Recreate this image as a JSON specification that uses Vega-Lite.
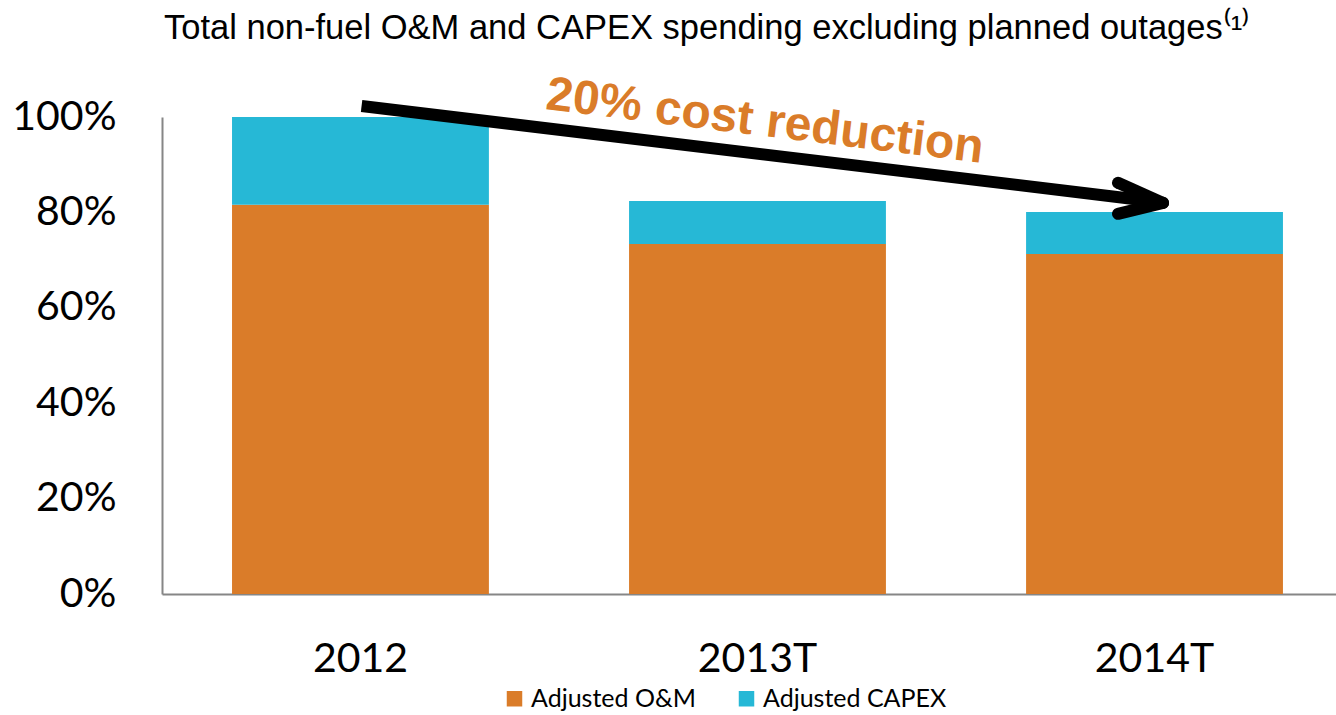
{
  "$schema": "https://vega.github.io/schema/vega-lite/v6.json",
  "width": 1174,
  "height": 477,
  "autosize": {"type": "none"},
  "padding": {"left": 162, "top": 117, "right": 0, "bottom": 121},
  "background": "white",
  "title": {
    "text": "Total non-fuel O&M and CAPEX spending excluding planned outages⁽¹⁾",
    "anchor": "start",
    "frame": "group",
    "font": "Liberation Sans",
    "fontSize": 34.5,
    "fontWeight": "normal",
    "color": "#000000",
    "offset": 25,
    "dx": 2
  },
  "config": {
    "view": {"stroke": null},
    "axis": {
      "grid": false,
      "ticks": false,
      "domainColor": "#868686",
      "domainWidth": 2,
      "labelColor": "#000000",
      "labelFont": "Lato",
      "labelFontSize": 41
    }
  },
  "layer": [
    {
      "data": {
        "values": [
          {"year": "2012", "series": "Adjusted O&M", "value": 0.816},
          {"year": "2012", "series": "Adjusted CAPEX", "value": 0.184},
          {"year": "2013T", "series": "Adjusted O&M", "value": 0.734},
          {"year": "2013T", "series": "Adjusted CAPEX", "value": 0.090},
          {"year": "2014T", "series": "Adjusted O&M", "value": 0.713},
          {"year": "2014T", "series": "Adjusted CAPEX", "value": 0.088}
        ]
      },
      "mark": {"type": "bar"},
      "encoding": {
        "x": {
          "field": "year",
          "type": "nominal",
          "sort": ["2012", "2013T", "2014T"],
          "scale": {"paddingInner": 0.353, "paddingOuter": 0.155, "align": 0.569},
          "axis": {"title": null, "labelAngle": 0, "labelPadding": 45}
        },
        "y": {
          "field": "value",
          "type": "quantitative",
          "stack": "zero",
          "scale": {"domain": [0, 1], "nice": false},
          "axis": {"title": null, "format": ".0%", "values": [0, 0.2, 0.4, 0.6, 0.8, 1], "labelPadding": 46}
        },
        "color": {
          "field": "series",
          "type": "nominal",
          "scale": {"domain": ["Adjusted O&M", "Adjusted CAPEX"], "range": ["#DA7C29", "#26B8D6"]},
          "legend": {
            "orient": "none",
            "legendX": 340,
            "legendY": 569,
            "direction": "horizontal",
            "title": null,
            "symbolType": "square",
            "symbolSize": 240,
            "symbolStrokeWidth": 0,
            "labelFont": "Lato",
            "labelFontSize": 25,
            "labelLimit": 400,
            "labelColor": "#000000",
            "labelOffset": 4,
            "columnPadding": 38
          }
        },
        "order": {"field": "series", "sort": "descending"}
      }
    },
    {
      "data": {"values": [{"ax": 0.170, "ay": 1.023, "ax2": 0.8416, "ay2": 0.824}]},
      "mark": {"type": "rule", "strokeWidth": 12, "color": "#000000", "strokeCap": "butt"},
      "encoding": {
        "x": {"field": "ax", "type": "quantitative", "scale": {"domain": [0, 1], "nice": false}, "axis": null},
        "y": {"field": "ay", "type": "quantitative", "scale": {"domain": [0, 1], "nice": false}, "axis": null},
        "x2": {"field": "ax2"},
        "y2": {"field": "ay2"}
      }
    },
    {
      "data": {
        "values": [
          {"ax": 0.8143, "ay": 0.862, "ax2": 0.8527, "ay2": 0.820},
          {"ax": 0.8143, "ay": 0.797, "ax2": 0.8527, "ay2": 0.820}
        ]
      },
      "mark": {"type": "rule", "strokeWidth": 12, "color": "#000000", "strokeCap": "round"},
      "encoding": {
        "x": {"field": "ax", "type": "quantitative", "scale": {"domain": [0, 1], "nice": false}, "axis": null},
        "y": {"field": "ay", "type": "quantitative", "scale": {"domain": [0, 1], "nice": false}, "axis": null},
        "x2": {"field": "ax2"},
        "y2": {"field": "ay2"}
      }
    },
    {
      "data": {"values": [{"ax": 0.5136, "ay": 0.9895, "label": "20% cost reduction"}]},
      "mark": {
        "type": "text",
        "angle": 7,
        "font": "Liberation Sans",
        "fontWeight": "bold",
        "fontSize": 48,
        "color": "#DA7C29",
        "align": "center",
        "baseline": "middle"
      },
      "encoding": {
        "x": {"field": "ax", "type": "quantitative", "scale": {"domain": [0, 1], "nice": false}, "axis": null},
        "y": {"field": "ay", "type": "quantitative", "scale": {"domain": [0, 1], "nice": false}, "axis": null},
        "text": {"field": "label"}
      }
    }
  ],
  "resolve": {"scale": {"x": "independent"}, "axis": {"x": "independent", "y": "independent"}}
}
